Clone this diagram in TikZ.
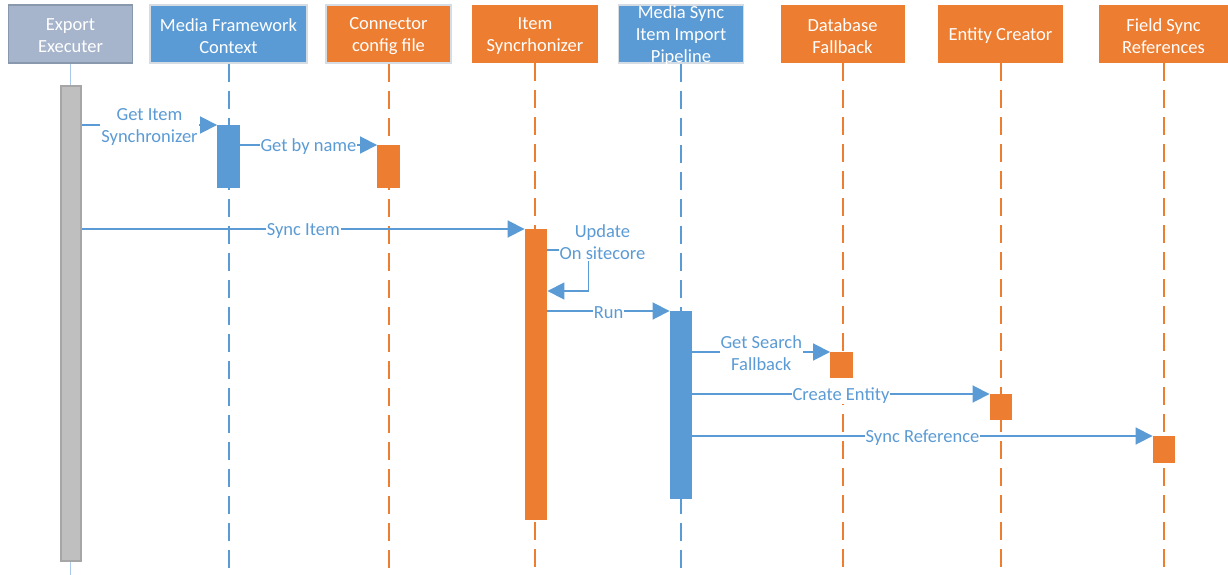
\documentclass[tikz,border=0pt]{standalone}
\usepackage{fontspec}
\setmainfont{Carlito}
\usetikzlibrary{arrows.meta,calc}
\definecolor{cblue}{HTML}{5B9BD5}
\definecolor{corange}{HTML}{ED7D31}
\definecolor{cslate}{HTML}{A6B5CC}
\definecolor{cslated}{HTML}{8A98AE}
\definecolor{cgray}{HTML}{BFBFBF}
\definecolor{cgrayd}{HTML}{A6A6A6}
\definecolor{cedge}{HTML}{D6DCE4}
\definecolor{clife}{HTML}{A9C8EA}
\newcommand\hdrfont{\fontsize{18.5}{22}\selectfont}
\newcommand\lblfont{\fontsize{18.5}{22}\selectfont}
\begin{document}
\begin{tikzpicture}[x=1pt,y=-1pt,
  hdr/.style={rectangle, minimum height=58pt, inner sep=0pt},
  hdrtext/.style={text=white, align=center, font=\hdrfont, inner sep=0pt},
  bar/.style={rectangle, inner sep=0pt, minimum width=22.5pt},
  lifeline/.style={line width=2pt, dash pattern=on 18pt off 9pt},
  msg/.style={draw=cblue, line width=1.8pt, -{Triangle[length=17pt,width=17pt]}},
  lbl/.style={fill=white, text=cblue, align=center, font=\lblfont, inner sep=1pt, yshift=-1.5pt}
]
\useasboundingbox (0,0) rectangle (1228,575);
\coordinate (bot) at (0,575);

% headers
\node[hdr, fill=cslate, draw=cslated, line width=1.5pt, minimum width=124pt] (ee) at (70.5,34) {};
\node[hdr, fill=cblue, draw=cedge, line width=1.5pt, minimum width=157pt] (mf) at (228.5,34) {};
\node[hdr, fill=corange, draw=cedge, line width=1.5pt, minimum width=125pt] (cf) at (388.5,34) {};
\node[hdr, fill=corange, minimum width=126pt] (is) at (535,34) {};
\node[hdr, fill=cblue, draw=cedge, line width=1.5pt, minimum width=125pt] (pl) at (681,34) {};
\node[hdr, fill=corange, minimum width=124pt] (db) at (842.5,34) {};
\node[hdr, fill=corange, minimum width=125pt] (ec) at (1000.5,34) {};
\node[hdr, fill=corange, minimum width=130pt] (fs) at (1163.5,34) {};

\node[hdrtext] (eet) at ([yshift=-2pt]ee) {Export\\Executer};
\node[hdrtext] (mft) at ([yshift=-2pt]mf) {Media Framework\\Context};
\node[hdrtext] (cft) at ([yshift=-2pt]cf) {Connector\\config file};
\node[hdrtext] (ist) at ([yshift=-2pt]is) {Item\\Syncrhonizer};
\node[hdrtext] (plt) at ([yshift=-2pt]pl) {Media Sync\\Item Import\\Pipeline};
\node[hdrtext] (dbt) at ([yshift=-2pt]db) {Database\\Fallback};
\node[hdrtext] (ect) at ([yshift=-2pt]ec) {Entity Creator};
\node[hdrtext] (fst) at ([yshift=-2pt]fs) {Field Sync\\References};

% lifelines
\draw[clife, line width=1.2pt] (ee.south) -- (ee.south |- bot);
\draw[lifeline, cblue] (mf.south) -- (mf.south |- bot);
\draw[lifeline, corange] (cf.south) -- (cf.south |- bot);
\draw[lifeline, corange] (is.south) -- (is.south |- bot);
\draw[lifeline, cblue] (pl.south) -- (pl.south |- bot);
\draw[lifeline, corange] (db.south) -- (db.south |- bot);
\draw[lifeline, corange] (ec.south) -- (ec.south |- bot);
\draw[lifeline, corange] (fs.south) -- (fs.south |- bot);

% activation bars
\node[bar, fill=cgray, draw=cgrayd, line width=2pt, minimum width=20pt, minimum height=475pt, anchor=north] (eeb) at (71,85) {};
\node[bar, fill=cblue, minimum height=63pt, anchor=north] (mfb) at (228.5,125) {};
\node[bar, fill=corange, minimum height=43pt, anchor=north] (cfb) at (388.5,145) {};
\node[bar, fill=corange, minimum height=291pt, anchor=north] (isb) at (536,229) {};
\node[bar, fill=cblue, minimum height=188pt, anchor=north] (plb) at (681,311) {};
\node[bar, fill=corange, minimum height=26pt, anchor=north] (dbb) at (841.5,352) {};
\node[bar, fill=corange, minimum height=26pt, anchor=north] (ecb) at (1001,394) {};
\node[bar, fill=corange, minimum height=27pt, anchor=north] (fsb) at (1164,436) {};

% messages
\draw[msg] (eeb.east |- mfb.north) -- (mfb.north west) node[lbl, midway] {Get Item\\Synchronizer};
\draw[msg] (mfb.east |- cfb.north) -- (cfb.north west) node[lbl, midway] {Get by name};
\draw[msg] (eeb.east |- isb.north) -- (isb.north west) node[lbl, midway] {Sync Item};
\draw[msg] ([yshift=-21pt]isb.north east) -- ++(41,0) -- ++(0,41) -- ([yshift=-62pt]isb.north east);
\node[lbl] (upd) at ([xshift=55pt,yshift=-12pt]isb.north east) {Update\\On sitecore};
\draw[msg] (isb.east |- plb.north) -- (plb.north west) node[lbl, midway] {Run};
\draw[msg] (plb.east |- dbb.north) -- (dbb.north west) node[lbl, midway] {Get Search\\Fallback};
\draw[msg] (plb.east |- ecb.north) -- (ecb.north west) node[lbl, midway] {Create Entity};
\draw[msg] (plb.east |- fsb.north) -- (fsb.north west) node[lbl, midway] {Sync Reference};
\end{tikzpicture}
\end{document}
